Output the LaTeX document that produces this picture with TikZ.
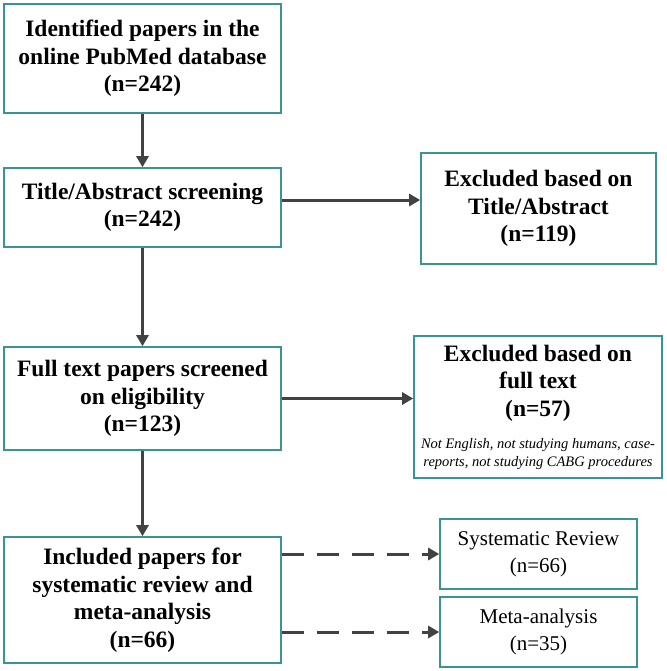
\documentclass[tikz,border=0pt]{standalone}
\usepackage{fontspec}
\setmainfont{Liberation Serif}
\usetikzlibrary{arrows.meta}
\definecolor{boxline}{HTML}{3A9494}
\definecolor{arrline}{HTML}{424242}
\newcommand\notefont{\fontsize{14.5}{17.5}\selectfont\mdseries\itshape}

\begin{document}
\begin{tikzpicture}[x=1pt,y=-1pt,
  box/.style={draw=boxline,line width=1.6pt,inner sep=2pt,align=center,
    font=\fontsize{23.5}{27.5}\selectfont\bfseries},
  outbox/.style={box,font=\fontsize{21}{27}\selectfont},
  arr/.style={draw=arrline,line width=3pt,-{Triangle[length=11pt,width=12pt]}},
  dasharr/.style={arr,dash pattern=on 22pt off 13pt}]
  \useasboundingbox (0,0) rectangle (666,671);
  \node[box,minimum width=277pt,minimum height=109pt] (ident) at (142.5,58.5)
    {Identified papers in the\\online PubMed database\\(n=242)};
  \node[box,minimum width=277pt,minimum height=79pt] (title) at (142.5,207.5)
    {Title/Abstract screening\\(n=242)};
  \node[box,minimum width=277pt,minimum height=103pt] (full) at (142.5,398.5)
    {Full text papers screened\\on eligibility\\(n=123)};
  \node[box,minimum width=277pt,minimum height=126pt] (incl) at (142.5,600)
    {Included papers for\\systematic review and\\meta-analysis\\(n=66)};
  \node[box,minimum width=235pt,minimum height=111pt] (excl1) at (538.5,208.5)
    {Excluded based on\\Title/Abstract\\(n=119)};
  \node[box,minimum width=248pt,minimum height=142pt] (excl2) at (538,407)
    {Excluded based on\\full text\\(n=57)\\[5pt]
     {\notefont Not English, not studying humans, case-}\\[-10pt]
     {\notefont reports, not studying CABG procedures}};
  \node[outbox,minimum width=197pt,minimum height=70pt] (sr) at (538.5,554)
    {Systematic Review\\(n=66)};
  \node[outbox,minimum width=197pt,minimum height=70pt] (ma) at (538.5,632)
    {Meta-analysis\\(n=35)};
  \coordinate (t) at ([yshift=7.5pt]title.east);
  \draw[arr] (ident) -- (title);
  \draw[arr] (title) -- (full);
  \draw[arr] (full) -- (incl);
  \draw[arr] (t) -- (t -| excl1.west);
  \draw[arr] (full.east) -- (full.east -| excl2.west);
  \draw[dasharr] (incl.east |- sr.west) -- (sr.west);
  \draw[dasharr] (incl.east |- ma.west) -- (ma.west);
\end{tikzpicture}
\end{document}
